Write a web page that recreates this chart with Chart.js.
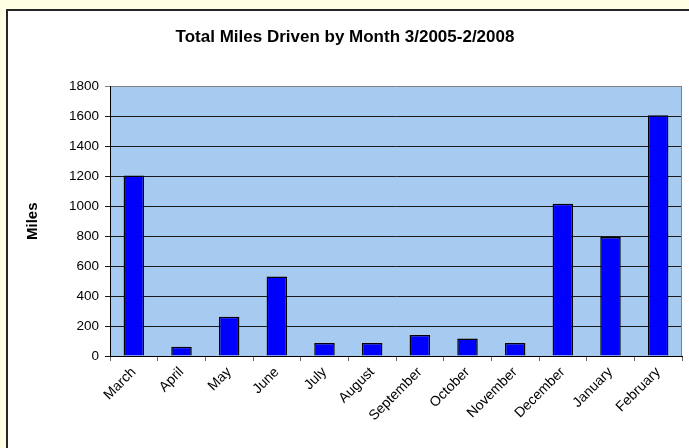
<!DOCTYPE html>
<html>
<head>
<meta charset="utf-8">
<script src="https://cdn.jsdelivr.net/npm/chart.js@4"></script>
<style>
    html, body { margin: 0; padding: 0; }
    body {
        width: 689px;
        height: 448px;
        background: #FFFFE3;
        position: relative;
        overflow: hidden;
        font-family: "Liberation Sans", Arial, sans-serif;
    }
    .frame {
        position: absolute;
        left: 6px;
        top: 9px;
        width: 681px;
        height: 437px;
        background: #FFFFFF;
        border-left: 2px solid #262626;
        border-top: 2px solid #262626;
    }
    #milesChart { display: block; }
</style>
</head>
<body>
<div class="frame">
    <canvas id="milesChart" width="681" height="437"></canvas>
</div>
<script>
/**
 * Total miles driven per month, 3/2005 - 2/2008
 */

const months = ['March', 'April', 'May', 'June', 'July', 'August', 'September',
    'October', 'November', 'December', 'January', 'February'];
const miles = [1205, 62, 262, 530, 87, 87, 140, 117, 87, 1017, 795, 1607];

const yTicks = [0, 200, 400, 600, 800, 1000, 1200, 1400, 1600, 1800];

const titleText = 'Total Miles Driven by Month 3/2005-2/2008';
const yTitleText = 'Miles';

const FONT = '"Liberation Sans", Arial, sans-serif';

// Light blue plot area + gray right edge, like the Excel chart
const plotArea = {
    id: 'plotArea',
    beforeDraw(chart) {
        const { ctx, chartArea: a } = chart;
        ctx.save();
        ctx.fillStyle = '#A6CAF0';
        ctx.fillRect(a.left, a.top, a.right - a.left, a.bottom - a.top);
        ctx.restore();
    },
    afterDraw(chart) {
        const { ctx, chartArea: a } = chart;
        ctx.save();
        ctx.strokeStyle = '#808080';
        ctx.lineWidth = 1;
        ctx.beginPath();
        ctx.moveTo(a.right - 0.5, a.top);
        ctx.lineTo(a.right - 0.5, a.bottom);
        ctx.stroke();
        ctx.restore();
    }
};

const ctx = document.getElementById('milesChart').getContext('2d');

new Chart(ctx, {
    type: 'bar',
    data: {
        labels: months,
        datasets: [{
            label: yTitleText,
            data: miles,
            backgroundColor: '#0000FF',
            borderColor: '#000000',
            borderWidth: 1.5,
            barPercentage: 0.43,
            categoryPercentage: 1
        }]
    },
    options: {
        responsive: false,
        animation: false,
        events: [],
        layout: { padding: { left: 0, right: 7, top: 0, bottom: 0 } },
        plugins: {
            legend: { display: false },
            tooltip: { enabled: false },
            title: {
                display: true,
                text: titleText,
                color: '#000000',
                font: { family: FONT, size: 17, weight: 'bold' },
                padding: { top: 16, bottom: 39 }
            }
        },
        scales: {
            x: {
                grid: {
                    display: true,
                    drawOnChartArea: false,
                    drawTicks: true,
                    tickLength: 5,
                    color: '#666666',
                    offset: true
                },
                border: { display: true, color: '#000000', width: 1 },
                ticks: {
                    color: '#000000',
                    font: { family: FONT, size: 14 },
                    maxRotation: 45,
                    minRotation: 45,
                    autoSkip: false,
                    padding: 3
                },
                afterFit(scale) { scale.height = 92; }
            },
            y: {
                min: 0,
                max: 1800,
                afterBuildTicks(scale) {
                    scale.ticks = yTicks.map(v => ({ value: v }));
                },
                grid: {
                    color: (c) => c.tick && c.tick.value === 1800 ? '#808080' : '#1A1A1A',
                    lineWidth: 1,
                    drawTicks: true,
                    tickLength: 5
                },
                border: { display: true, color: '#000000', width: 1 },
                ticks: {
                    color: '#000000',
                    font: { family: FONT, size: 13.5 },
                    padding: 6,
                    callback: (value) => String(value)
                },
                title: {
                    display: true,
                    text: yTitleText,
                    color: '#000000',
                    font: { family: FONT, size: 15, weight: 'bold' },
                    padding: { top: 16, bottom: 0 }
                },
                afterFit(scale) { scale.width = 102; }
            }
        }
    },
    plugins: [plotArea]
});
</script>
</body>
</html>
